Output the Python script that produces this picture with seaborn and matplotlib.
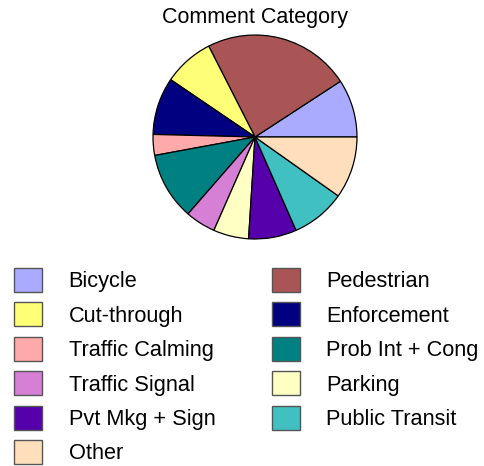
import matplotlib
matplotlib.use("Agg")
import matplotlib.pyplot as plt
import seaborn as sns

# Comment categories (counterclockwise from 3 o'clock), share of comments in %
categories = [
    "Bicycle", "Pedestrian", "Cut-through", "Enforcement",
    "Traffic Calming", "Prob Int + Cong", "Traffic Signal", "Parking",
    "Pvt Mkg + Sign", "Public Transit", "Other",
]
shares = [9.2, 23.3, 8.0, 9.1, 3.3, 10.7, 4.8, 5.6, 7.6, 8.6, 9.8]
colors = [
    "#AAAAFF", "#AA5555", "#FFFF77", "#000080",
    "#FFAAAA", "#008080", "#D580D5", "#FFFFC4",
    "#5500AA", "#40C0C0", "#FFDEBB",
]

sns.set_theme(style="white")
plt.rcParams["font.family"] = ["Liberation Sans", "DejaVu Sans"]
plt.rcParams["text.color"] = "black"

W, H = 484, 466
fig = plt.figure(figsize=(W / 100, H / 100), dpi=100)
fig.patch.set_facecolor("white")

# pie area: centre (255, 137) px, radius 103 px
cx, cy, r = 255, 137, 103
ax = fig.add_axes([(cx - r) / W, (H - cy - r) / H, 2 * r / W, 2 * r / H])
wedges, _ = ax.pie(
    shares, colors=sns.color_palette(colors), startangle=0, counterclock=True,
    wedgeprops={"edgecolor": "black", "linewidth": 0.9},
)
ax.set_xlim(-1.01, 1.01)
ax.set_ylim(-1.01, 1.01)
ax.set_aspect("equal")
ax.axis("off")

fig.text(cx / W, 1 - 18 / H, "Comment Category", ha="center", va="center",
         fontsize=15.5, color="black")

# legend is filled row by row: reorder so column-major filling reads row-major
order = list(range(0, len(categories), 2)) + list(range(1, len(categories), 2))
fs = 15.7
leg = fig.legend(
    [wedges[i] for i in order], [categories[i] for i in order],
    ncol=2, loc="upper left",
    bbox_to_anchor=(14 / W, 1 - 268 / H), frameon=False,
    fontsize=fs, handlelength=1.3, handleheight=1.3,
    handletextpad=1.2, labelspacing=0.47, columnspacing=2.58,
    borderpad=0, borderaxespad=0,
)
for t in leg.get_texts():
    t.set_color("black")
for h in leg.legend_handles:
    h.set_edgecolor("#555555")
    h.set_linewidth(1.0)

fig.savefig("out.png", dpi=100, facecolor="white")
